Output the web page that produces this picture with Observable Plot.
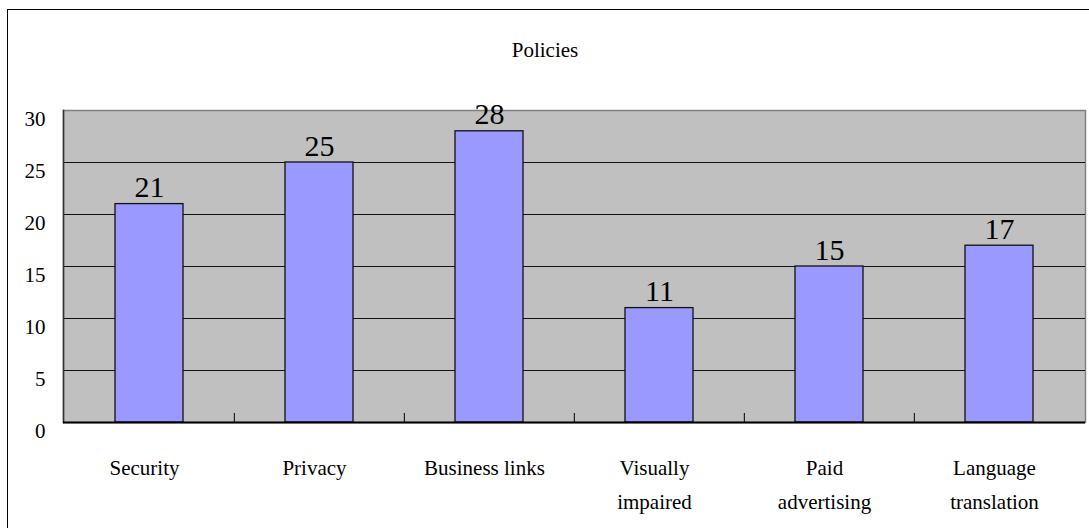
<!DOCTYPE html>
<html><head><meta charset="utf-8">
<script src="https://cdn.jsdelivr.net/npm/d3@7"></script>
<script src="https://cdn.jsdelivr.net/npm/@observablehq/plot@0.6"></script>
<style>
body{margin:0;background:#fff;}
#wrap{position:relative;width:1089px;height:528px;overflow:hidden;background:#fff;}
#border{position:absolute;left:7px;top:9px;width:1200px;height:600px;border-left:1.5px solid #000;border-top:1.5px solid #000;}
#wrap svg{position:absolute;left:0;top:0;}
</style></head><body><div id="wrap"><div id="border"></div></div>
<script>
const categories = ["Security","Privacy","Business links","Visually\nimpaired","Paid\nadvertising","Language\ntranslation"];
const values = [21,25,28,11,15,17];
const yTicks = [0,5,10,15,20,25,30];
const gridValues = [5,10,15,20,25];
const title = "Policies";

const data = categories.map((c,i)=>({category:c, value:values[i]}));
const W=1089,H=528, mL=63, mR=4, mT=110, mB=106;
const step = (W-mL-mR)/categories.length;
const titleDx = W/2 - (mL + (W-mL-mR)/2);
const font = "'Liberation Serif', 'Times New Roman', serif";

const chart = Plot.plot({
  width:W, height:H, marginLeft:mL, marginRight:mR, marginTop:mT, marginBottom:mB,
  style:{fontFamily:font, background:"transparent", overflow:"visible", color:"#000"},
  x:{domain:categories, paddingInner:0.6, paddingOuter:0.3, axis:null},
  y:{domain:[0,30], axis:null},
  marks:[
    Plot.frame({fill:"#c0c0c0", stroke:"#808080", strokeWidth:1.5}),
    Plot.ruleY(gridValues,{stroke:"#111", strokeWidth:1}),
    Plot.frame({anchor:"left", stroke:"#333", strokeWidth:1.5}),
    Plot.barY(data,{x:"category", y:"value", fill:"#9999ff", stroke:"#111", strokeWidth:1.3}),
    Plot.ruleX(categories.slice(1), {x:d=>d, y1:0, y2:0, dx:-step/2, insetTop:-9, stroke:"#000"}),
    Plot.ruleY([0], {stroke:"#000", strokeWidth:2}),
    Plot.axisY({ticks:yTicks, tickSize:0, tickPadding:18, fontSize:21, dy:9, label:null, fill:"#000"}),
    Plot.text(data, {x:"category", text:d=>d.category, frameAnchor:"bottom", lineAnchor:"top", fontSize:21, lineHeight:1.6, dy:29, dx:-5, fill:"#000"}),
    Plot.text(data, {x:"category", y:"value", text:d=>String(d.value), lineAnchor:"bottom", dy:-7, fontSize:30, fill:"#000", fontWeight:300}),
    Plot.text([title], {frameAnchor:"top", text:d=>d, lineAnchor:"bottom", dy:-54, dx:titleDx, fontSize:21, fill:"#000"})
  ]
});
document.getElementById("wrap").appendChild(chart);
</script>
</body></html>
